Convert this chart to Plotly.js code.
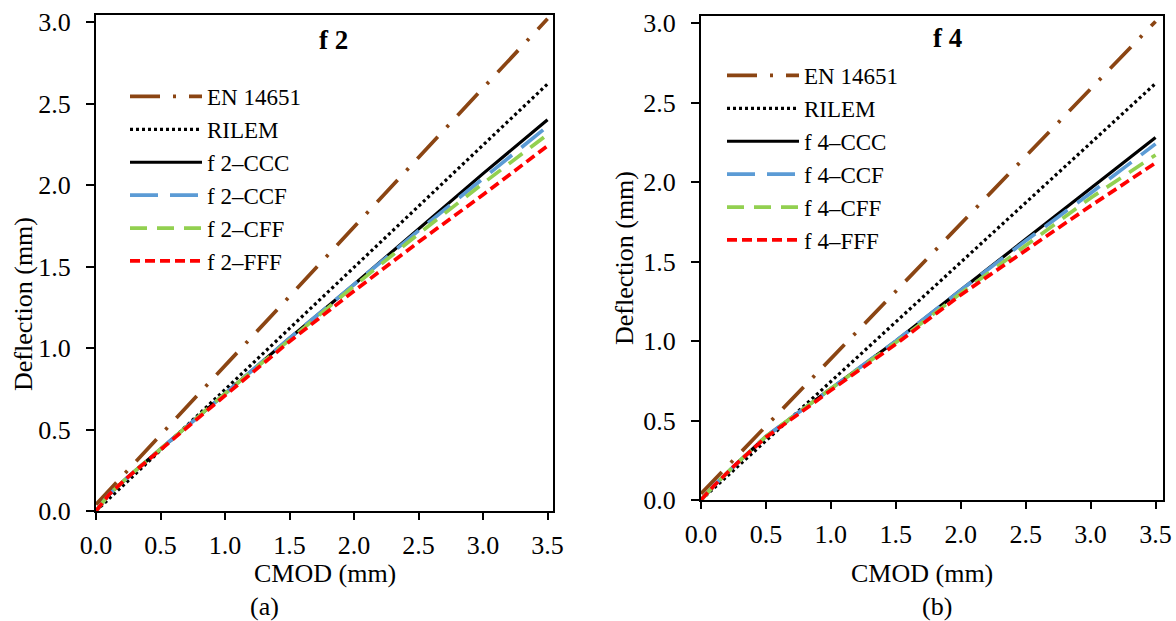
<!DOCTYPE html>
<html>
<head>
<meta charset="utf-8">
<script src="https://cdn.plot.ly/plotly-3.0.1.min.js"></script>
<style>html,body{margin:0;padding:0;background:#fff;}#chart{width:1176px;height:621px;}</style>
</head>
<body>
<div id="chart"></div>
<script>
// ---------- data ----------
const cmodCurve = [0, 0.1, 0.25, 0.5, 0.75, 1.0, 1.5, 2.0, 2.5, 3.0, 3.5];
const cmodStd = [0, 0.5, 1.0, 1.5, 2.0, 2.5, 3.0, 3.5];

// panel (a) f 2
const f2EN = [0.04, 0.465, 0.89, 1.315, 1.74, 2.165, 2.59, 3.02];
const f2RILEM = [0, 0.37, 0.745, 1.12, 1.495, 1.87, 2.245, 2.62];
const f2CCC = [0, 0.10, 0.21, 0.38, 0.55, 0.72, 1.06, 1.39, 1.73, 2.07, 2.40];
const f2CCF = [0, 0.10, 0.21, 0.38, 0.55, 0.72, 1.06, 1.39, 1.72, 2.04, 2.36];
const f2CFF = [0, 0.10, 0.21, 0.38, 0.55, 0.72, 1.05, 1.38, 1.70, 2.01, 2.31];
const f2FFF = [0, 0.10, 0.21, 0.375, 0.54, 0.71, 1.04, 1.35, 1.65, 1.94, 2.24];

// panel (b) f 4
const f4EN = [0.04, 0.465, 0.89, 1.315, 1.74, 2.165, 2.59, 3.01];
const f4RILEM = [0, 0.37, 0.745, 1.12, 1.495, 1.87, 2.245, 2.62];
const f4CCC = [0, 0.09, 0.21, 0.40, 0.55, 0.70, 1.00, 1.32, 1.64, 1.96, 2.28];
const f4CCF = [0, 0.09, 0.21, 0.40, 0.55, 0.70, 1.00, 1.32, 1.63, 1.93, 2.24];
const f4CFF = [0, 0.09, 0.21, 0.40, 0.55, 0.70, 0.99, 1.30, 1.60, 1.90, 2.17];
const f4FFF = [0, 0.09, 0.21, 0.395, 0.54, 0.69, 0.98, 1.29, 1.57, 1.85, 2.12];

const namesA = ['EN 14651', 'RILEM', 'f 2\u2013CCC', 'f 2\u2013CCF', 'f 2\u2013CFF', 'f 2\u2013FFF'];
const namesB = ['EN 14651', 'RILEM', 'f 4\u2013CCC', 'f 4\u2013CCF', 'f 4\u2013CFF', 'f 4\u2013FFF'];
const tickVals = [0, 0.5, 1.0, 1.5, 2.0, 2.5, 3.0, 3.5];
const yTickVals = [0, 0.5, 1.0, 1.5, 2.0, 2.5, 3.0];

// ---------- styles ----------
const FONT = '"Liberation Serif", "Times New Roman", serif';
const styles = [
  {color: '#8B4513', width: 3.7, dash: '30px,13px,3px,13px'},
  {color: '#000000', width: 3.2, dash: '3px,3px'},
  {color: '#000000', width: 3.2, dash: 'solid'},
  {color: '#5B9BD5', width: 3.7, dash: '28px,12px'},
  {color: '#92D050', width: 3.7, dash: '17px,10px'},
  {color: '#FF0000', width: 3.7, dash: '10px,5px'}
];

function mk(x, y, i, names, xa, ya, leg) {
  return {x: x, y: y, name: names[i], type: 'scatter', mode: 'lines',
    xaxis: xa, yaxis: ya, legend: leg, line: styles[i], hoverinfo: 'x+y+name'};
}

const traces = [
  mk(cmodStd, f2EN, 0, namesA, 'x', 'y', 'legend'),
  mk(cmodStd, f2RILEM, 1, namesA, 'x', 'y', 'legend'),
  mk(cmodCurve, f2CCC, 2, namesA, 'x', 'y', 'legend'),
  mk(cmodCurve, f2CCF, 3, namesA, 'x', 'y', 'legend'),
  mk(cmodCurve, f2CFF, 4, namesA, 'x', 'y', 'legend'),
  mk(cmodCurve, f2FFF, 5, namesA, 'x', 'y', 'legend'),
  mk(cmodStd, f4EN, 0, namesB, 'x2', 'y2', 'legend2'),
  mk(cmodStd, f4RILEM, 1, namesB, 'x2', 'y2', 'legend2'),
  mk(cmodCurve, f4CCC, 2, namesB, 'x2', 'y2', 'legend2'),
  mk(cmodCurve, f4CCF, 3, namesB, 'x2', 'y2', 'legend2'),
  mk(cmodCurve, f4CFF, 4, namesB, 'x2', 'y2', 'legend2'),
  mk(cmodCurve, f4FFF, 5, namesB, 'x2', 'y2', 'legend2')
];

const W = 1176, H = 621;
const px = v => v / W, py = v => 1 - v / H;

function xAx(dom, anchor, range) {
  return {domain: dom, anchor: anchor, range: range, tickvals: tickVals, tickformat: '.1f',
    ticks: 'outside', ticklen: 7, tickwidth: 2, tickcolor: '#000',
    showline: true, linewidth: 2, linecolor: '#000', mirror: true,
    showgrid: false, zeroline: false, ticklabelstandoff: 3,
    tickfont: {family: FONT, size: 26, color: '#000'}};
}
function yAx(dom, anchor, range) {
  return {domain: dom, anchor: anchor, range: range, tickvals: yTickVals, tickformat: '.1f',
    ticks: 'outside', ticklen: 8, tickwidth: 2, tickcolor: '#000',
    showline: true, linewidth: 2, linecolor: '#000', mirror: true,
    showgrid: false, zeroline: false, ticklabelstandoff: 10,
    tickfont: {family: FONT, size: 26, color: '#000'}};
}
function xIn(over, anchor, range, len) {
  return {overlaying: over, anchor: anchor, range: range, tickvals: tickVals, ticks: 'inside',
    ticklen: len, tickwidth: 2, tickcolor: '#000', showticklabels: false, showline: false,
    showgrid: false, zeroline: false};
}
function yIn(over, anchor, range, len) {
  return {overlaying: over, anchor: anchor, range: range, tickvals: yTickVals, ticks: 'inside',
    ticklen: len, tickwidth: 2, tickcolor: '#000', showticklabels: false, showline: false,
    showgrid: false, zeroline: false, side: 'left'};
}

const xrA = [0, 3.54], yrA = [0, 3.043];
const xrB = [0, 3.555], yrB = [0, 3.046];

function legendCfg(x, yTop) {
  return {x: px(x), y: py(yTop), xanchor: 'left', yanchor: 'top', bgcolor: 'rgba(0,0,0,0)',
    borderwidth: 0, itemwidth: 72, tracegroupgap: 0,
    font: {family: FONT, size: 23, color: '#000'}};
}

const ann = (text, x, y, size, extra) => Object.assign({text: text, x: px(x), y: py(y),
  xref: 'paper', yref: 'paper', showarrow: false, xanchor: 'center', yanchor: 'middle',
  font: {family: FONT, size: size, color: '#000'}}, extra || {});

const layout = {
  width: W, height: H, margin: {l: 0, r: 0, t: 0, b: 0},
  paper_bgcolor: '#fff', plot_bgcolor: '#fff', showlegend: true,
  xaxis: xAx([px(96), px(552.7)], 'y', xrA),
  yaxis: yAx([py(511), py(15)], 'x', yrA),
  xaxis2: xAx([px(701), px(1162.7)], 'y2', xrB),
  yaxis2: yAx([py(500), py(15.7)], 'x2', yrB),
  xaxis3: xIn('x', 'y', xrA, 10),
  yaxis3: yIn('y', 'x', yrA, 8),
  xaxis4: xIn('x2', 'y2', xrB, 10),
  yaxis4: yIn('y2', 'x2', yrB, 8),
  legend: legendCfg(125, 75),
  legend2: legendCfg(722, 54),
  annotations: [
    ann('<b>f 2</b>', 333, 40, 27),
    ann('<b>f 4</b>', 947, 38, 27),
    ann('Deflection (mm)', 24, 304, 26, {textangle: -90}),
    ann('Deflection (mm)', 624, 258, 26, {textangle: -90}),
    ann('CMOD (mm)', 325, 573, 26),
    ann('CMOD (mm)', 922, 573, 26),
    ann('(a)', 264, 606, 26),
    ann('(b)', 937, 606, 26)
  ]
};

Plotly.newPlot('chart', traces, layout, {displayModeBar: false, staticPlot: true});
</script>
</body>
</html>
